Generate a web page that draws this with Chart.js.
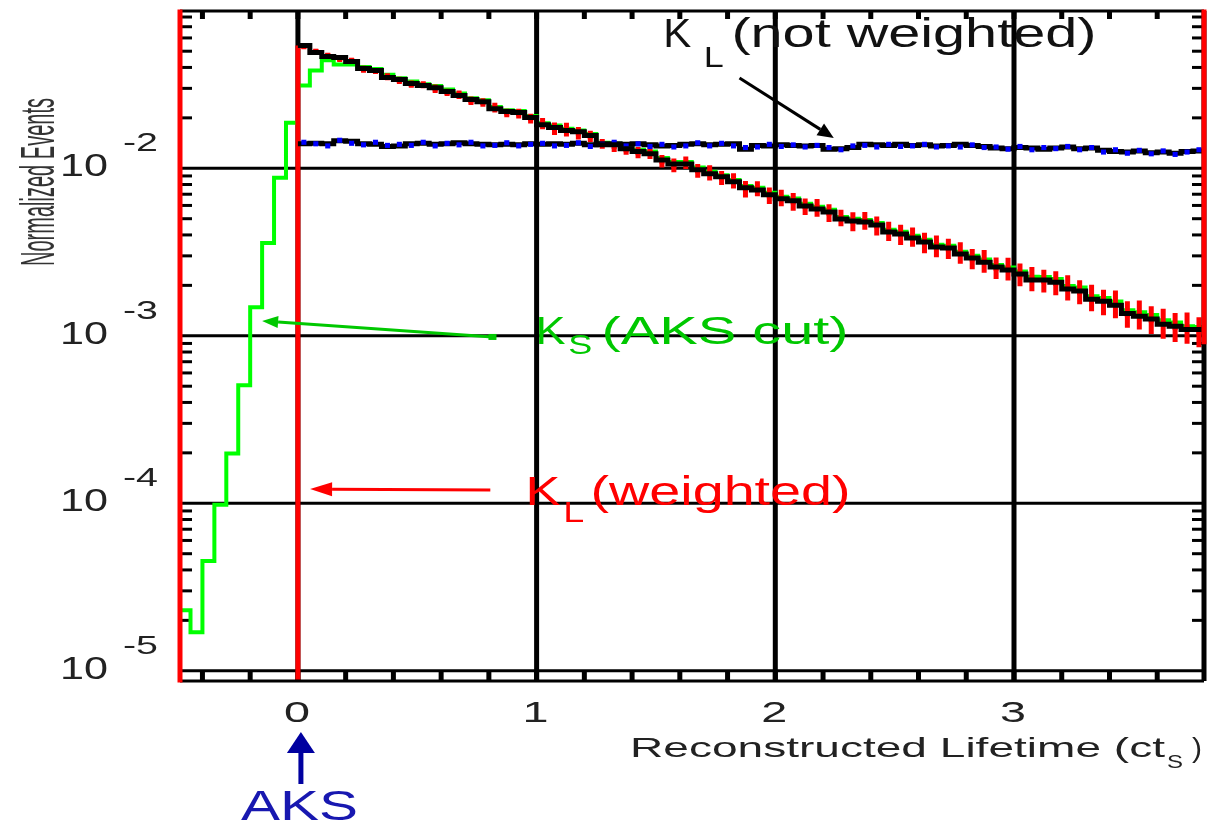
<!DOCTYPE html>
<html><head><meta charset="utf-8">
<script src="https://cdn.jsdelivr.net/npm/chart.js@4.4.1/dist/chart.umd.min.js"></script>
<style>html,body{margin:0;padding:0;background:#fff;}canvas{display:block;}</style>
</head><body>
<canvas id="c" width="1208" height="825"></canvas>
<script>
// ---------------- DATA ----------------
const binWidth = 0.05;
const ksFirstBinStart = -0.5;
// K_S (AKS cut) histogram, bins from -0.5 to 0
const ksBeforeZero = [2.30e-5, 1.70e-5, 4.53e-5, 9.80e-5, 1.98e-4, 5.06e-4, 1.48e-3, 3.58e-3, 8.77e-3, 1.87e-2];
// K_S (AKS cut) histogram, bins from 0 upward
const ksAfterZero = [
 0.0312,0.0384,0.0441,0.0417,0.0417,0.0402,0.0392,0.0362,0.0345,0.0330,
 0.0318,0.0310,0.0295,0.0280,0.0262,0.0255,0.0232,0.0222,0.0220,0.0205,
 0.0186,0.0180,0.0172,0.0168,0.0160,0.0142,0.0140,0.0135,0.0129,0.0126,
 0.0115,0.0109,0.0109,0.0101,0.00955,0.00910,0.00850,0.00785,0.00765,0.00715,
 0.00675,0.00660,0.00615,0.00590,0.00565,0.00512,0.00500,0.00492,0.00472,0.00430,
 0.00418,0.00395,0.00375,0.00350,0.00345,0.00318,0.00300,0.00285,0.00265,0.00256,
 0.00242,0.00225,0.00224,0.00218,0.00198,0.00194,0.00172,0.00168,0.00160,0.00142,
 0.00138,0.00133,0.00124,0.00120,0.00114,0.00113];
// black decay histogram (from 0)
const decayBlack = [
 0.0541,0.0492,0.0465,0.0459,0.0434,0.0394,0.0384,0.0348,0.0339,0.0321,
 0.0312,0.0303,0.0287,0.0272,0.0257,0.0250,0.0227,0.0218,0.0215,0.0201,
 0.0182,0.0175,0.0168,0.0165,0.0157,0.0138,0.0138,0.0131,0.0126,0.0122,
 0.0112,0.0106,0.0106,0.00980,0.00927,0.00889,0.00830,0.00764,0.00743,0.00694,
 0.00657,0.00639,0.00596,0.00572,0.00549,0.00498,0.00485,0.00478,0.00459,0.00417,
 0.00405,0.00384,0.00363,0.00339,0.00334,0.00308,0.00291,0.00275,0.00257,0.00247,
 0.00234,0.00215,0.00215,0.00209,0.00190,0.00185,0.00165,0.00161,0.00152,0.00136,
 0.00131,0.00126,0.00117,0.00114,0.00109,0.00109];
// K_L weighted (red points) and relative errors
const klWeighted = [
 0.0535,0.0498,0.0470,0.0452,0.0440,0.0390,0.0380,0.0352,0.0335,0.0318,
 0.0315,0.0298,0.0284,0.0275,0.0253,0.0247,0.0230,0.0214,0.0212,0.0198,
 0.0185,0.0172,0.0170,0.0162,0.0155,0.0140,0.0135,0.0129,0.0124,0.0124,
 0.0110,0.0104,0.0108,0.00965,0.00940,0.00875,0.00840,0.00750,0.00755,0.00685,
 0.00665,0.00630,0.00590,0.00580,0.00540,0.00505,0.00480,0.00485,0.00452,0.00420,
 0.00400,0.00388,0.00358,0.00342,0.00330,0.00312,0.00287,0.00278,0.00253,0.00250,
 0.00231,0.00218,0.00212,0.00206,0.00193,0.00182,0.00168,0.00158,0.00154,0.00134,
 0.00133,0.00124,0.00118,0.00112,0.00111,0.00105];
const klWeightedRelErr = [
 0.04,0.04,0.04,0.05,0.04,0.05,0.04,0.05,0.05,0.05,
 0.05,0.06,0.05,0.06,0.06,0.06,0.07,0.06,0.07,0.07,
 0.08,0.09,0.10,0.09,0.08,0.07,0.08,0.07,0.08,0.09,
 0.09,0.10,0.09,0.10,0.11,0.10,0.11,0.12,0.11,0.12,
 0.12,0.13,0.12,0.13,0.13,0.12,0.14,0.13,0.14,0.14,
 0.15,0.14,0.15,0.16,0.15,0.16,0.15,0.17,0.16,0.17,
 0.17,0.18,0.17,0.18,0.19,0.18,0.20,0.19,0.21,0.20,
 0.22,0.21,0.23,0.22,0.24,0.23];
// K_L not weighted (black line + blue points)
const klNotWeighted = [
 0.0140,0.0141,0.0140,0.0146,0.0145,0.0140,0.0139,0.0135,0.0136,0.0140,
 0.0141,0.0139,0.0140,0.0142,0.0140,0.0139,0.0138,0.0139,0.0138,0.0140,
 0.0139,0.0140,0.0139,0.0141,0.0138,0.0140,0.0140,0.0139,0.0140,0.0138,
 0.0136,0.0137,0.0139,0.0140,0.0138,0.0139,0.0140,0.0130,0.0137,0.0136,
 0.0138,0.0137,0.0136,0.0137,0.0130,0.0131,0.0133,0.0139,0.0138,0.0137,
 0.0139,0.0137,0.0138,0.0136,0.0137,0.0139,0.0137,0.0135,0.0132,0.0131,
 0.0133,0.0132,0.0130,0.0132,0.0134,0.0131,0.0132,0.0128,0.0126,0.0125,
 0.0127,0.0124,0.0125,0.0123,0.0126,0.0127];
const klNotWeightedBlue = [
 0.0143,0.0140,0.0136,0.0147,0.0141,0.0138,0.0143,0.0137,0.0139,0.0137,
 0.0143,0.0136,0.0141,0.0138,0.0143,0.0136,0.0137,0.0142,0.0136,0.0139,
 0.0141,0.0136,0.0137,0.0142,0.0135,0.0139,0.0143,0.0136,0.0140,0.0135,
 0.0139,0.0134,0.0136,0.0142,0.0136,0.0141,0.0136,0.0133,0.0134,0.0139,
 0.0135,0.0138,0.0134,0.0137,0.0133,0.0129,0.0136,0.0137,0.0134,0.0139,
 0.0135,0.0136,0.0139,0.0134,0.0136,0.0134,0.0138,0.0133,0.0134,0.0130,
 0.0135,0.0129,0.0133,0.0131,0.0135,0.0129,0.0133,0.0125,0.0129,0.0123,
 0.0128,0.0122,0.0127,0.0121,0.0125,0.0129];
const xTickValues = [0, 1, 2, 3];
const xTickLabels = ['0', '1', '2', '3'];
const yDecades = [-2, -3, -4, -5];
const xAxisTitle = 'Reconstructed Lifetime (ct';
const yAxisTitle = 'Normalized Events';

// ---------------- build datasets ----------------
function histPoints(start, vals) {
  const pts = vals.map((v, i) => ({x: start + i * binWidth, y: v}));
  pts.push({x: start + vals.length * binWidth, y: vals[vals.length - 1]});
  return pts;
}
const greenPts = histPoints(ksFirstBinStart, ksBeforeZero.concat(ksAfterZero));
const blackPts = histPoints(0, decayBlack);
const flatPts = histPoints(0, klNotWeighted);
const bluePts = klNotWeightedBlue.map((v, i) => ({x: (i + 0.5) * binWidth, y: v}));
const redPts = klWeighted.map((v, i) => ({x: (i + 0.5) * binWidth, y: v}));
const redBars = [{x: 0, y: 1e-8}, {x: 0, y: decayBlack[0]}, {x: 0, y: null}];
klWeighted.forEach((v, i) => {
  const e = klWeightedRelErr[i], xc = (i + 0.5) * binWidth;
  redBars.push({x: xc, y: v / (1 + e)}, {x: xc, y: v * (1 + e)}, {x: xc, y: null});
});

// ---------------- drawing helpers ----------------
const FONT = '"Liberation Sans", Arial, Helvetica, sans-serif';
function fitText(ctx, txt, x, y, size, w, color) {
  ctx.save();
  ctx.font = size + 'px ' + FONT;
  ctx.fillStyle = color;
  ctx.textAlign = 'left';
  ctx.textBaseline = 'alphabetic';
  const m = ctx.measureText(txt).width;
  ctx.translate(x, y);
  ctx.scale(w ? w / m : 1, 1);
  ctx.fillText(txt, 0, 0);
  ctx.restore();
}
function seg(ctx, x1, y1, x2, y2) { ctx.beginPath(); ctx.moveTo(x1, y1); ctx.lineTo(x2, y2); ctx.stroke(); }
function arrow(ctx, x1, y1, x2, y2, color, lw, hl, hw) {
  const ang = Math.atan2(y2 - y1, x2 - x1);
  const bx = x2 - hl * Math.cos(ang), by = y2 - hl * Math.sin(ang);
  ctx.save();
  ctx.strokeStyle = color; ctx.fillStyle = color; ctx.lineWidth = lw;
  seg(ctx, x1, y1, bx, by);
  ctx.beginPath();
  ctx.moveTo(x2, y2);
  ctx.lineTo(bx + hw * Math.sin(ang), by - hw * Math.cos(ang));
  ctx.lineTo(bx - hw * Math.sin(ang), by + hw * Math.cos(ang));
  ctx.closePath(); ctx.fill();
  ctx.restore();
}

// annotation anchors in data coordinates (x = lifetime, L = log10 of value)
const notes = {
  notW:   {k: [1.531, -1.276], sub: [1.700, -1.395], rest: [1.816, -1.276], from: [1.850, -1.461], to: [2.245, -1.819]},
  ks:     {k: [0.995, -3.049], sub: [1.133, -3.108], rest: [1.272, -3.049], from: [0.815, -3.007], to: [-0.150, -2.911]},
  klw:    {k: [0.953, -4.010], sub: [1.112, -4.111], rest: [1.226, -4.010], from: [0.806, -3.921], to: [0.051, -3.915]}
};

const framePlugin = {
  id: 'frame',
  beforeDatasetsDraw(chart) {
    const {ctx, chartArea: a, scales: {x, y}} = chart;
    ctx.save();
    ctx.strokeStyle = '#000';
    ctx.lineCap = 'butt';
    // horizontal decade grid
    ctx.lineWidth = 3;
    yDecades.forEach(d => { const py = y.getPixelForValue(Math.pow(10, d)); seg(ctx, a.left, py, a.right, py); });
    // vertical grid
    ctx.lineWidth = 5;
    xTickValues.forEach(t => { const px = x.getPixelForValue(t); seg(ctx, px, a.top, px, a.bottom); });
    // minor log ticks, left and right
    ctx.lineWidth = 3;
    for (let k = -6; k <= -1; k++) {
      for (let m = 2; m <= 9; m++) {
        const py = y.getPixelForValue(m * Math.pow(10, k));
        if (py > a.top + 2 && py < a.bottom - 4) {
          seg(ctx, a.left, py, a.left + 12, py);
          seg(ctx, a.right - 12, py, a.right, py);
        }
      }
    }
    // top and bottom x ticks every 0.2
    ctx.lineWidth = 5;
    const yb = y.getPixelForValue(1e-5);
    for (let i = -2; i <= 18; i++) {
      const t = i * 0.2;
      const px = x.getPixelForValue(t);
      if (px < a.left + 4 || px > a.right - 4) continue;
      seg(ctx, px, a.top, px, a.top + 8);
      seg(ctx, px, yb, px, a.bottom);
    }
    ctx.restore();
  },
  afterDatasetsDraw(chart) {
    const {ctx, chartArea: a, scales: {x, y}} = chart;
    const P = (p) => [x.getPixelForValue(p[0]), y.getPixelForValue(Math.pow(10, p[1]))];
    ctx.save();
    ctx.lineCap = 'butt';
    // frame
    ctx.strokeStyle = '#000';
    ctx.lineWidth = 3;
    seg(ctx, a.left, a.top, a.right, a.top);
    seg(ctx, a.left, a.bottom, a.right, a.bottom);
    ctx.lineWidth = 5;
    seg(ctx, a.right, a.top, a.right, a.bottom);
    ctx.strokeStyle = '#ff0000';
    seg(ctx, a.left, a.top - 1.5, a.left, a.bottom + 1.5);
    seg(ctx, a.right, a.top - 1.5, a.right, y.getPixelForValue(Math.pow(10, -3.05)));
    ctx.restore();

    // annotations
    let p, q;
    // K_L (not weighted)
    p = P(notes.notW.k); fitText(ctx, 'K', p[0], p[1], 40, 28, '#111');
    p = P(notes.notW.sub); fitText(ctx, 'L', p[0], p[1], 30, 20, '#111');
    p = P(notes.notW.rest); fitText(ctx, '(not weighted)', p[0], p[1], 40, 365, '#111');
    p = P(notes.notW.from); q = P(notes.notW.to); arrow(ctx, p[0], p[1], q[0], q[1], '#000', 3, 16, 7);
    // K_S (AKS cut)
    const gcol = '#00c800';
    p = P(notes.ks.k); fitText(ctx, 'K', p[0], p[1], 38, 30, gcol);
    p = P(notes.ks.sub); fitText(ctx, 'S', p[0], p[1], 28, 24, gcol);
    p = P(notes.ks.rest); fitText(ctx, '(AKS cut)', p[0], p[1], 38, 247, gcol);
    p = P(notes.ks.from); q = P(notes.ks.to); arrow(ctx, p[0], p[1], q[0], q[1], gcol, 3, 16, 6);
    ctx.fillStyle = gcol; ctx.fillRect(p[0] - 4, p[1] - 3, 8, 6);
    // K_L (weighted)
    const rcol = '#ff0000';
    p = P(notes.klw.k); fitText(ctx, 'K', p[0], p[1], 40, 35, rcol);
    p = P(notes.klw.sub); fitText(ctx, 'L', p[0], p[1], 30, 21, rcol);
    p = P(notes.klw.rest); fitText(ctx, '(weighted)', p[0], p[1], 40, 260, rcol);
    p = P(notes.klw.from); q = P(notes.klw.to); arrow(ctx, p[0], p[1], q[0], q[1], rcol, 3, 22, 7);
  },
  afterDraw(chart) {
    const {ctx, chartArea: a, scales: {x, y}} = chart;
    const tcol = '#222';
    // y tick labels 10^-n
    yDecades.forEach(d => {
      const py = y.getPixelForValue(Math.pow(10, d));
      fitText(ctx, '10', 60, py + 8, 31, 48, tcol);
      fitText(ctx, '-' + Math.abs(d), 123, py - 17, 26, 35, tcol);
    });
    // x tick labels
    xTickValues.forEach((t, i) => {
      const px = x.getPixelForValue(t);
      fitText(ctx, xTickLabels[i], px - 14, 722, 30, 26, tcol);
    });
    // x axis title
    fitText(ctx, xAxisTitle, 630, 757, 28, 535, tcol);
    fitText(ctx, 'S', 1167, 768, 18, 16, tcol);
    fitText(ctx, ')', 1192, 757, 28, 10, tcol);
    // y axis title (rotated)
    ctx.save();
    ctx.font = '28px ' + FONT;
    ctx.fillStyle = '#333';
    const m = ctx.measureText(yAxisTitle).width;
    ctx.translate(54, 266);
    ctx.rotate(-Math.PI / 2);
    ctx.scale(168 / m, 1.75);
    ctx.textBaseline = 'alphabetic';
    ctx.fillText(yAxisTitle, 0, 0);
    ctx.restore();
    // AKS arrow and label
    const ax = x.getPixelForValue(0) + 3;
    arrow(ctx, ax, 784, ax, 732, '#0000a0', 5, 21, 14);
    fitText(ctx, 'AKS', ax - 60, 820, 42, 117, '#1818b0');
  }
};

new Chart(document.getElementById('c'), {
  type: 'line',
  data: {
    datasets: [
      {label: 'decay', data: blackPts, stepped: 'before', borderColor: '#000', borderWidth: 5, pointRadius: 0, order: 0, clip: 0},
      {label: 'blue', data: bluePts, showLine: false, pointStyle: 'rect', pointRadius: 3.6, pointBackgroundColor: '#0000ff', pointBorderWidth: 0, order: 1, clip: 0},
      {label: 'flat', data: flatPts, stepped: 'before', borderColor: '#000', borderWidth: 5, pointRadius: 0, order: 2, clip: 0},
      {label: 'redPts', data: redPts, showLine: false, pointStyle: 'rect', pointRadius: 3.6, pointBackgroundColor: '#ff0000', pointBorderWidth: 0, order: 3, clip: 0},
      {label: 'redBars', data: redBars, borderColor: '#ff0000', borderWidth: 5, pointRadius: 0, spanGaps: false, order: 4, clip: 0},
      {label: 'ks', data: greenPts, stepped: 'before', borderColor: '#00ff00', borderWidth: 4, pointRadius: 0, order: 5, clip: 0}
    ]
  },
  options: {
    responsive: false,
    animation: false,
    devicePixelRatio: 1,
    events: [],
    layout: {padding: {left: 180, right: 4, top: 11, bottom: 144}},
    plugins: {legend: {display: false}, tooltip: {enabled: false}},
    scales: {
      x: {type: 'linear', min: -0.494, max: 3.796, display: false, offset: false},
      y: {type: 'logarithmic', min: Math.pow(10, -5.061), max: Math.pow(10, -1.061), display: false}
    }
  },
  plugins: [framePlugin]
});
</script>
</body></html>
